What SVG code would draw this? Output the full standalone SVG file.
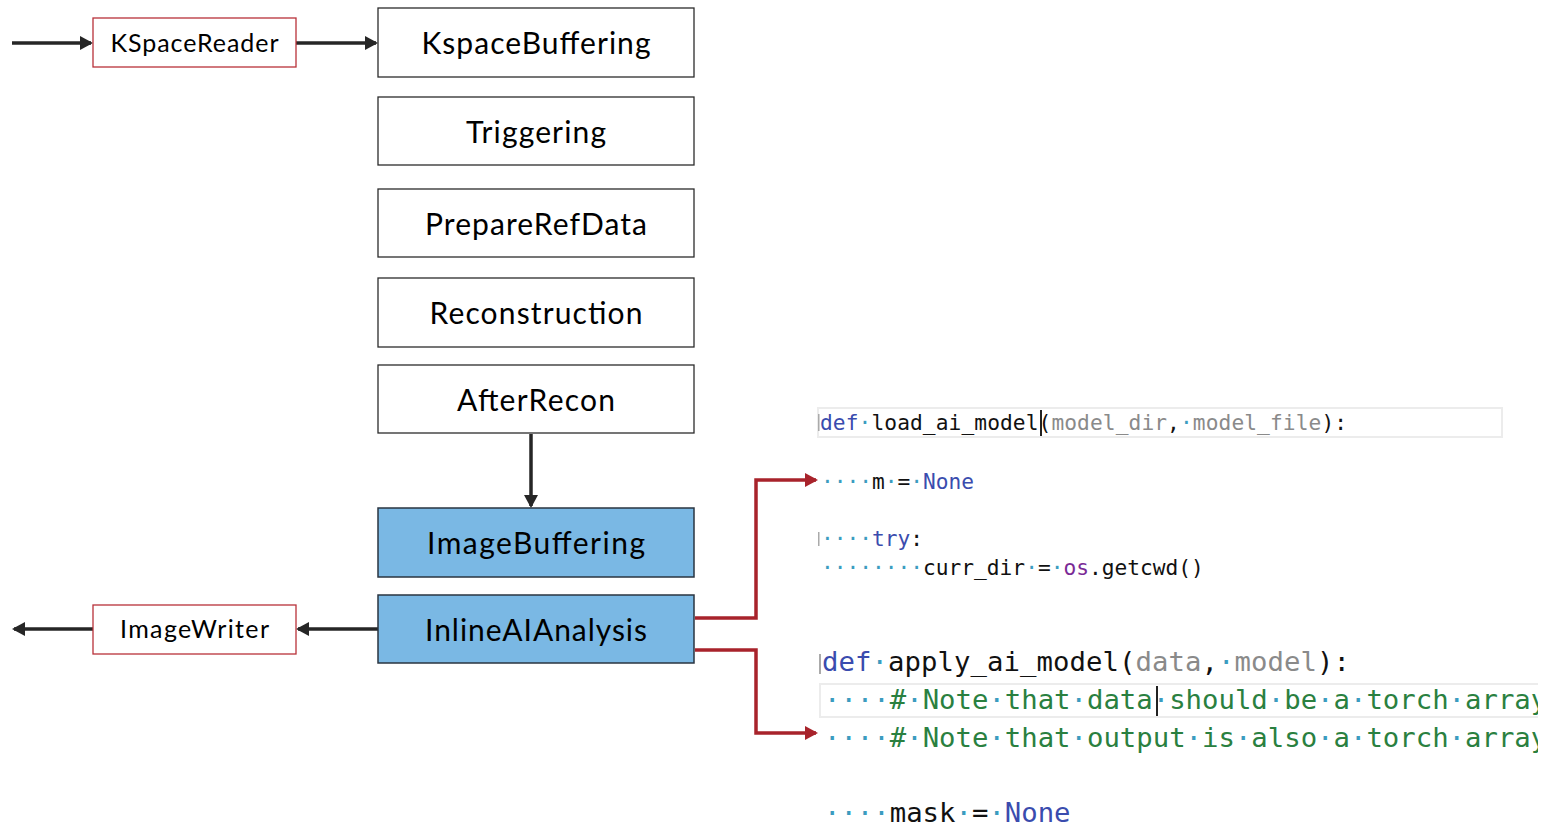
<svg xmlns="http://www.w3.org/2000/svg" width="1557" height="827" viewBox="0 0 1557 827">
<style>
.node{fill:#fff;stroke:#2b2b2b;stroke-width:1.3}
.blue{fill:#7ab8e4;stroke:#2a3440;stroke-width:1.5}
.red{fill:#fff;stroke:#b8323a;stroke-width:1.3}
.lbl{font-family:Lato,"Open Sans","Liberation Sans",sans-serif;font-size:30px;fill:#000;text-anchor:middle}
.slbl{font-family:Lato,"Open Sans","Liberation Sans",sans-serif;font-size:25px;fill:#000;text-anchor:middle}
.blk{stroke:#262626;stroke-width:3.5;fill:none}
.redc{stroke:#a8232b;stroke-width:3.5;fill:none}
.c1{font-family:"DejaVu Sans Mono","Liberation Mono",monospace;font-size:21.2px;fill:#111}
.c2{font-family:"DejaVu Sans Mono","Liberation Mono",monospace;font-size:27.3px;fill:#111}
.d{fill:#3b9cc0}
.kw{fill:#3a4cae}
.pr{fill:#8a8a8a}
.os{fill:#7a2a96}
.cm{fill:#2a8040}
.hl{fill:none;stroke:#ececec;stroke-width:2}
</style>
<defs>
<marker id="ab" markerUnits="userSpaceOnUse" markerWidth="16" markerHeight="16" refX="11" refY="7" orient="auto">
<path d="M0,0 L13,7 L0,14 Z" fill="#262626"/>
</marker>
<marker id="ar" markerUnits="userSpaceOnUse" markerWidth="16" markerHeight="16" refX="11" refY="7" orient="auto">
<path d="M0,0 L13,7 L0,14 Z" fill="#a8232b"/>
</marker>
<clipPath id="clip"><rect x="0" y="0" width="1538" height="827"/></clipPath>
</defs>

<g id="connectors">
<line class="blk" x1="12" y1="43" x2="91" y2="43" marker-end="url(#ab)"/>
<line class="blk" x1="296" y1="43" x2="376" y2="43" marker-end="url(#ab)"/>
<line class="blk" x1="531" y1="434" x2="531" y2="506" marker-end="url(#ab)"/>
<line class="blk" x1="378" y1="629" x2="298" y2="629" marker-end="url(#ab)"/>
<line class="blk" x1="93" y1="629" x2="14" y2="629" marker-end="url(#ab)"/>
<polyline class="redc" points="695,618 756,618 756,480 816,480" marker-end="url(#ar)"/>
<polyline class="redc" points="695,650 756,650 756,733 816,733" marker-end="url(#ar)"/>
</g>

<g id="KSpaceReader"><rect class="red" x="93" y="18" width="203" height="49"/><text class="slbl" x="194.5" y="52" textLength="168">KSpaceReader</text></g>
<g id="KspaceBuffering"><rect class="node" x="378" y="8" width="316" height="69"/><text class="lbl" x="536" y="54" textLength="229">KspaceBuffering</text></g>
<g id="Triggering"><rect class="node" x="378" y="97" width="316" height="68"/><text class="lbl" x="536" y="143" textLength="140">Triggering</text></g>
<g id="PrepareRefData"><rect class="node" x="378" y="189" width="316" height="68"/><text class="lbl" x="536" y="235" textLength="222">PrepareRefData</text></g>
<g id="Reconstruction"><rect class="node" x="378" y="278" width="316" height="69"/><text class="lbl" x="536" y="324" textLength="213">Reconstruction</text></g>
<g id="AfterRecon"><rect class="node" x="378" y="365" width="316" height="68"/><text class="lbl" x="536" y="411" textLength="158">AfterRecon</text></g>
<g id="ImageBuffering"><rect class="blue" x="378" y="508" width="316" height="69"/><text class="lbl" x="536" y="554" textLength="218">ImageBuffering</text></g>
<g id="InlineAIAnalysis"><rect class="blue" x="378" y="595" width="316" height="68"/><text class="lbl" x="536" y="641" textLength="222">InlineAIAnalysis</text></g>
<g id="ImageWriter"><rect class="red" x="93" y="605" width="203" height="49"/><text class="slbl" x="194.5" y="638" textLength="149">ImageWriter</text></g>

<g id="code" clip-path="url(#clip)">
<rect class="hl" x="818" y="408" width="684" height="29"/>
<rect x="818" y="414" width="1.5" height="17" fill="#aaa"/>
<text class="c1" x="820" y="430" textLength="527"><tspan class="kw">def</tspan><tspan class="d">·</tspan>load_ai_model(<tspan class="pr">model_dir</tspan>,<tspan class="d">·</tspan><tspan class="pr">model_file</tspan>):</text>
<rect x="1040" y="410" width="2" height="26" fill="#222"/>
<text class="c1" x="821" y="489"><tspan class="d">····</tspan>m<tspan class="d">·</tspan>=<tspan class="d">·</tspan><tspan class="kw">None</tspan></text>
<rect x="818" y="532" width="1.5" height="14" fill="#aaa"/>
<text class="c1" x="821" y="546"><tspan class="d">····</tspan><tspan class="kw">try</tspan>:</text>
<text class="c1" x="821" y="575"><tspan class="d">········</tspan>curr_dir<tspan class="d">·</tspan>=<tspan class="d">·</tspan><tspan class="os">os</tspan>.getcwd()</text>

<rect class="hl" x="820" y="684" width="730" height="33"/>
<rect x="819" y="654" width="2" height="20" fill="#aaa"/>
<text class="c2" x="822" y="671" textLength="528"><tspan class="kw">def</tspan><tspan class="d">·</tspan>apply_ai_model(<tspan class="pr">data</tspan>,<tspan class="d">·</tspan><tspan class="pr">model</tspan>):</text>
<text class="c2" x="824" y="709"><tspan class="d">····</tspan><tspan class="cm">#</tspan><tspan class="d">·</tspan><tspan class="cm">Note</tspan><tspan class="d">·</tspan><tspan class="cm">that</tspan><tspan class="d">·</tspan><tspan class="cm">data</tspan><tspan class="d">·</tspan><tspan class="cm">should</tspan><tspan class="d">·</tspan><tspan class="cm">be</tspan><tspan class="d">·</tspan><tspan class="cm">a</tspan><tspan class="d">·</tspan><tspan class="cm">torch</tspan><tspan class="d">·</tspan><tspan class="cm">array</tspan></text>
<rect x="1156" y="686" width="2" height="30" fill="#222"/>
<text class="c2" x="824" y="747"><tspan class="d">····</tspan><tspan class="cm">#</tspan><tspan class="d">·</tspan><tspan class="cm">Note</tspan><tspan class="d">·</tspan><tspan class="cm">that</tspan><tspan class="d">·</tspan><tspan class="cm">output</tspan><tspan class="d">·</tspan><tspan class="cm">is</tspan><tspan class="d">·</tspan><tspan class="cm">also</tspan><tspan class="d">·</tspan><tspan class="cm">a</tspan><tspan class="d">·</tspan><tspan class="cm">torch</tspan><tspan class="d">·</tspan><tspan class="cm">array</tspan></text>
<text class="c2" x="824" y="822"><tspan class="d">····</tspan>mask<tspan class="d">·</tspan>=<tspan class="d">·</tspan><tspan class="kw">None</tspan></text>
</g>
</svg>
